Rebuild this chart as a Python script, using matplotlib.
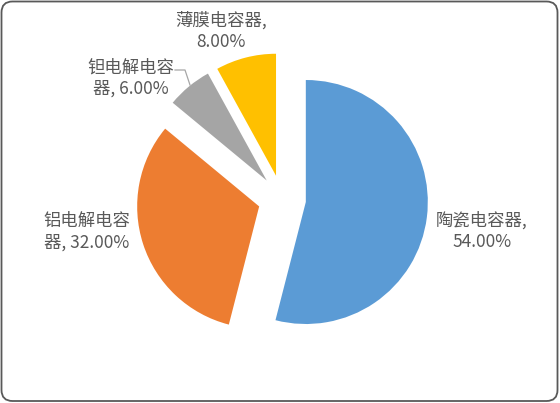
import matplotlib
matplotlib.use('Agg')
import matplotlib.pyplot as plt
from matplotlib.patches import FancyBboxPatch

plt.rcParams['font.family'] = ['Noto Sans CJK SC', 'DejaVu Sans']

# data
categories = ['陶瓷电容器', '铝电解电容器', '钽电解电容器', '薄膜电容器']
shares = [54.0, 32.0, 6.0, 8.0]
colors = ['#5B9BD5', '#ED7D31', '#A5A5A5', '#FFC000']

W, H = 560, 403


# excel-style label: wrap after 5 characters
def make_label(cat, val):
    pct = '%.2f%%' % val
    if len(cat) <= 5:
        return cat + ',\n' + pct
    return cat[:5] + '\n' + cat[5:] + ', ' + pct


fig = plt.figure(figsize=(W / 100, H / 100), dpi=100)
ax = fig.add_axes([0, 0, 1, 1])

# pie geometry in pixels (y measured from top, flipped below)
cx, cy, rad = 282, 199, 122
offset = 24
ax.pie(shares, colors=colors, startangle=90, counterclock=False,
       center=(cx, H - cy), radius=rad, explode=[offset] * len(shares),
       wedgeprops=dict(linewidth=0))

ax.set_xlim(0, W)
ax.set_ylim(0, H)
ax.set_aspect('auto')
ax.axis('off')

# label centres (pixels from top-left)
label_pos = [(482, 231), (87, 232), (131, 78), (221, 31)]
for cat, val, (lx, ly) in zip(categories, shares, label_pos):
    ax.text(lx, H - ly, make_label(cat, val), ha='center', va='center',
            multialignment='center', fontsize=12.5, color='#595959',
            linespacing=1.25)

# leader line for the small grey slice
ax.plot([175, 185, 190], [H - 70, H - 70, H - 85], color='#A6A6A6', lw=0.9)

# rounded chart border
border = FancyBboxPatch((1.5, 2), W - 4, H - 3.5,
                        boxstyle='round,pad=0,rounding_size=11',
                        facecolor='none', edgecolor='#595959', lw=1.3,
                        clip_on=False)
ax.add_patch(border)

fig.savefig('out.png', dpi=100)
